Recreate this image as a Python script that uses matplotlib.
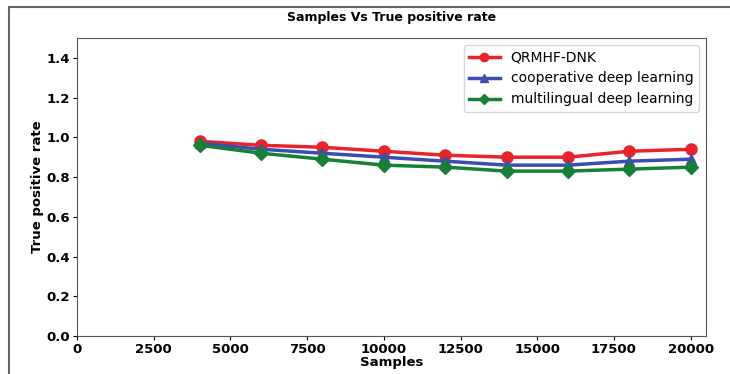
import matplotlib
matplotlib.use('Agg')
import matplotlib.pyplot as plt
from matplotlib.patches import Rectangle

samples = [4000, 6000, 8000, 10000, 12000, 14000, 16000, 18000, 20000]
qrmhf = [0.98, 0.96, 0.95, 0.93, 0.91, 0.90, 0.90, 0.93, 0.94]
coop = [0.97, 0.94, 0.92, 0.90, 0.88, 0.86, 0.86, 0.88, 0.89]
multi = [0.96, 0.92, 0.89, 0.86, 0.85, 0.83, 0.83, 0.84, 0.85]

fig = plt.figure(figsize=(7.3, 3.74), dpi=100)
ax = fig.add_axes([77 / 730, 1 - 336 / 374, (706 - 77) / 730, (336 - 38) / 374])

ax.plot(samples, qrmhf, '-o', color='#e8232b', lw=2.5, ms=8, label='QRMHF-DNK')
ax.plot(samples, coop, '-^', color='#3b4db0', lw=2.5, ms=7, label='cooperative deep learning')
ax.plot(samples, multi, '-D', color='#178036', lw=2.5, ms=7, label='multilingual deep learning')

ax.set_xlim(0, 20500)
ax.set_ylim(0, 1.5)
ax.set_xticks(range(0, 20001, 2500))
ax.set_yticks([0.0, 0.2, 0.4, 0.6, 0.8, 1.0, 1.2, 1.4])
ax.tick_params(length=3, pad=2)
for lbl in ax.get_xticklabels() + ax.get_yticklabels():
    lbl.set_fontweight('bold')
    lbl.set_fontsize(9.5)
ax.set_xlabel('Samples', fontweight='bold', fontsize=9.5, labelpad=0)
ax.set_ylabel('True positive rate', fontweight='bold', fontsize=9.5, labelpad=2)
ax.set_title('Samples Vs True positive rate', fontweight='bold', fontsize=9, pad=12)
for s in ax.spines.values():
    s.set_color('#555555')
ax.legend(loc='upper right', fontsize=10, handlelength=2.2, markerscale=0.75)

# outer frame around the figure
fig.patches.append(Rectangle((9 / 730, -0.1), 1.2, 1 - 7 / 374 + 0.1, transform=fig.transFigure,
                             fill=False, ec='#666666', lw=1.5))

fig.savefig('out.png', dpi=100)
